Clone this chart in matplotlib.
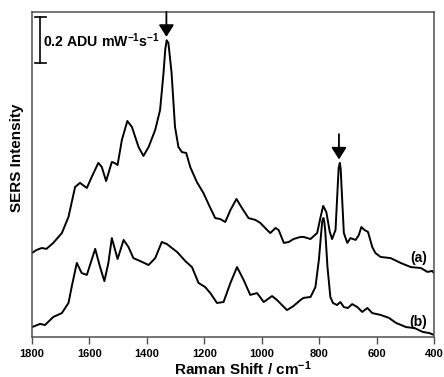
import numpy as np
from matplotlib import pyplot as plt

plt.rcParams['font.family'] = ['Liberation Sans', 'DejaVu Sans']
plt.rcParams['font.weight'] = 'bold'
plt.rcParams['mathtext.fontset'] = 'custom'
plt.rcParams['mathtext.rm'] = 'Liberation Sans:bold'
plt.rcParams['mathtext.bf'] = 'Liberation Sans:bold'
plt.rcParams['mathtext.default'] = 'bf'

# Spectrum (a) - wavenumber / intensity (ADU mW^-1 s^-1, offset)
wn_a = [1800, 1785, 1766, 1750, 1726, 1696, 1673, 1650, 1633, 1609, 1592, 1569, 1557,
        1542, 1522, 1513, 1502, 1487, 1468, 1452, 1429, 1412, 1394, 1371, 1354, 1342,
        1336, 1331, 1325, 1320, 1314, 1302, 1290, 1278, 1263, 1249, 1226, 1203, 1179,
        1162, 1145, 1127, 1109, 1088, 1069, 1046, 1022, 1005, 981, 970, 952, 941, 923,
        906, 889, 865, 854, 830, 807, 795, 786, 775, 763, 755, 743, 736, 732, 728,
        725, 722, 714, 702, 691, 673, 662, 653, 642, 630, 615, 604, 586, 551, 516,
        481, 446, 423, 406, 400]
int_a = [0.365, 0.378, 0.387, 0.383, 0.409, 0.452, 0.522, 0.652, 0.670, 0.648, 0.696,
         0.757, 0.739, 0.678, 0.761, 0.757, 0.748, 0.857, 0.939, 0.913, 0.826, 0.787,
         0.826, 0.900, 0.987, 1.148, 1.250, 1.290, 1.278, 1.220, 1.148, 0.913, 0.826,
         0.804, 0.800, 0.739, 0.674, 0.626, 0.561, 0.517, 0.513, 0.500, 0.552, 0.600,
         0.561, 0.517, 0.509, 0.496, 0.465, 0.452, 0.474, 0.465, 0.409, 0.413, 0.426,
         0.435, 0.435, 0.426, 0.452, 0.522, 0.570, 0.543, 0.457, 0.426, 0.465, 0.639,
         0.735, 0.757, 0.730, 0.652, 0.452, 0.409, 0.430, 0.422, 0.443, 0.478, 0.465,
         0.457, 0.391, 0.365, 0.348, 0.343, 0.322, 0.304, 0.300, 0.283, 0.287, 0.278]

# Spectrum (b)
wn_b = [1800, 1772, 1755, 1726, 1696, 1673, 1662, 1644, 1627, 1609, 1580, 1563, 1548,
        1534, 1522, 1502, 1481, 1464, 1447, 1423, 1394, 1371, 1348, 1330, 1313, 1295,
        1266, 1243, 1220, 1197, 1179, 1156, 1133, 1109, 1086, 1063, 1040, 1016, 993,
        964, 947, 912, 889, 865, 854, 830, 813, 801, 793, 789, 785, 782, 779, 771,
        761, 752, 738, 726, 714, 700, 685, 667, 650, 632, 615, 586, 557, 532, 497,
        468, 439, 416, 400]
int_b = [0.043, 0.057, 0.052, 0.087, 0.104, 0.148, 0.217, 0.322, 0.278, 0.270, 0.383,
         0.304, 0.243, 0.322, 0.430, 0.339, 0.422, 0.391, 0.343, 0.330, 0.313, 0.343,
         0.413, 0.404, 0.387, 0.370, 0.330, 0.304, 0.235, 0.217, 0.191, 0.148, 0.152,
         0.235, 0.304, 0.248, 0.183, 0.191, 0.152, 0.178, 0.161, 0.117, 0.135, 0.161,
         0.170, 0.174, 0.217, 0.335, 0.452, 0.505, 0.517, 0.500, 0.465, 0.304, 0.174,
         0.148, 0.139, 0.152, 0.130, 0.126, 0.143, 0.130, 0.109, 0.126, 0.104, 0.096,
         0.083, 0.061, 0.043, 0.039, 0.022, 0.017, 0.009]

# Marked bands (arrows) and x ticks
marked = [1332, 731]
xticks = [1800, 1600, 1400, 1200, 1000, 800, 600, 400]

fig = plt.figure(figsize=(4.44, 3.77), dpi=100)
ax = fig.add_axes([0.0721, 0.1061, 0.9054, 0.8621])

ax.plot(wn_a, int_a, color='black', lw=1.4)
ax.plot(wn_b, int_b, color='black', lw=1.4)

ax.set_xlim(1800, 400)
ax.set_ylim(0, 1.413)
ax.set_xticks(xticks)
ax.set_yticks([])
ax.tick_params(axis='x', direction='out', length=5, width=1, color='#505050',
               labelsize=8, pad=3.5)
for sp in ax.spines.values():
    sp.set_color('#505050')
    sp.set_linewidth(1.1)

# Arrows over the marked bands (tip just above the local maximum)
wa = np.array(wn_a)
ia = np.array(int_a)
for pk in marked:
    tip = ia[np.abs(wa - pk) < 12].max() + 0.015
    start = 1.413 if pk > 1000 else tip + 0.11
    ax.annotate('', xy=(pk, tip), xytext=(pk, start),
                arrowprops=dict(arrowstyle='-|>,head_length=0.6,head_width=0.38',
                                mutation_scale=12, color='black', lw=1.3,
                                shrinkA=0, shrinkB=0))

# Scale bar 0.2 ADU mW-1 s-1
ax.plot([1772, 1772], [1.191, 1.391], color='black', lw=1.2)
ax.plot([1790, 1752], [1.191, 1.191], color='black', lw=1.2)
ax.plot([1790, 1752], [1.391, 1.391], color='black', lw=1.2)
ax.text(1762, 1.287, r'0.2 ADU mW$^{-1}$s$^{-1}$', fontsize=10.2, fontweight='bold',
        ha='left', va='center')

# Trace labels
ax.text(454, 0.343, '(a)', fontsize=10, fontweight='bold', ha='center', va='center')
ax.text(454, 0.065, '(b)', fontsize=10, fontweight='bold', ha='center', va='center')

fig.text(0.038, 0.581, 'SERS Intensity', rotation=90, fontsize=11, fontweight='bold',
         ha='center', va='center')
fig.text(0.548, 0.006, r'Raman Shift / cm$^{-1}$', fontsize=11, fontweight='bold',
         ha='center', va='baseline')

fig.savefig('out.png', dpi=100)
